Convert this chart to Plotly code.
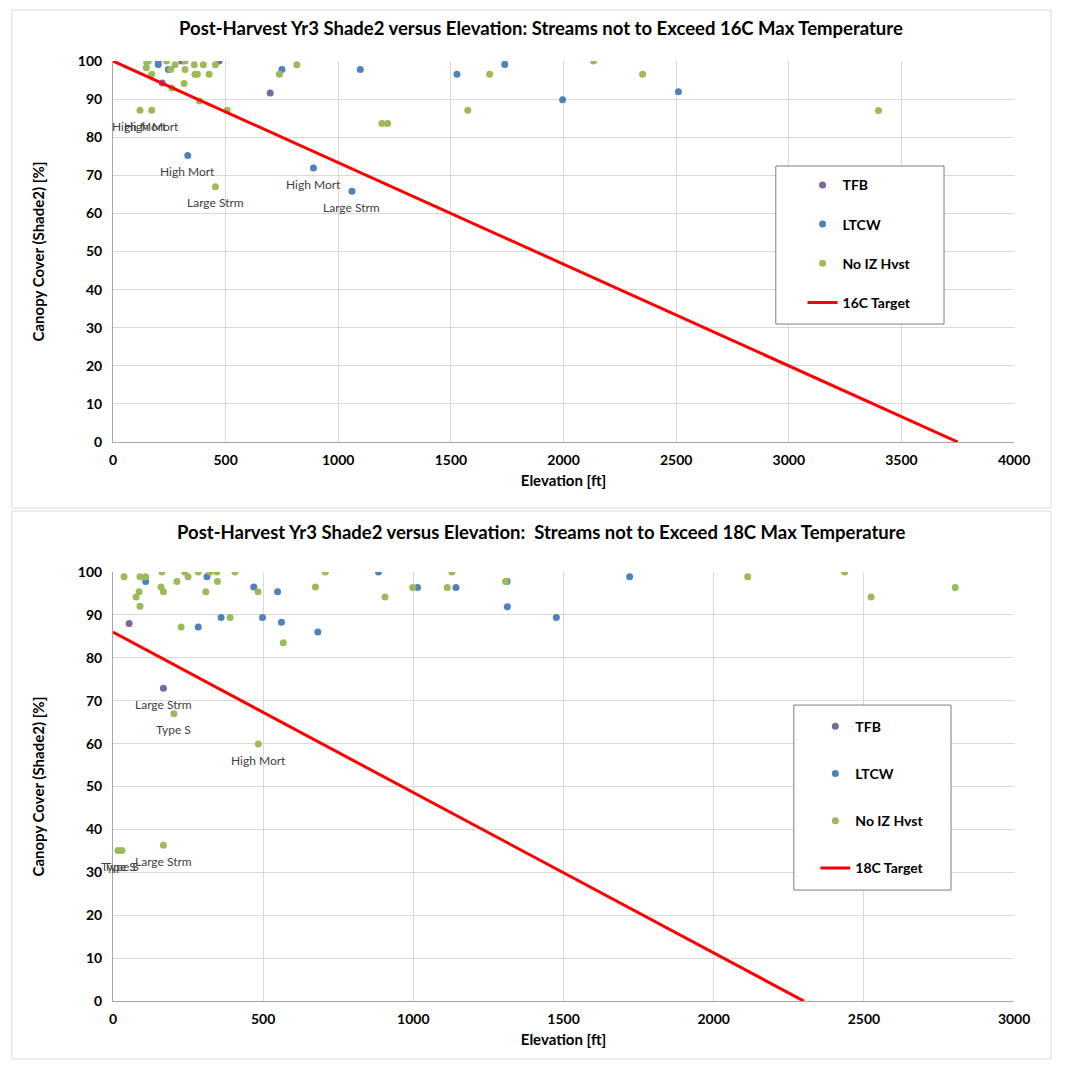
import plotly.graph_objects as go

# ---------------- data: 16C chart ----------------
tfb16_x = [219, 305, 471, 698]
tfb16_y = [94.2, 100, 100, 91.6]
ltcw16_x = [201, 201, 246, 332, 750, 890, 1061, 1098, 1527, 1739, 1996, 2510]
ltcw16_y = [100, 99.1, 97.8, 75.2, 97.8, 71.9, 65.8, 97.8, 96.5, 99.1, 89.8, 91.9]
noiz16_x = [120, 148, 150, 157, 172, 172, 238, 256, 261, 276, 316, 320, 320, 361, 364, 375,
            384, 401, 427, 455, 455, 507, 739, 816, 1194, 1219, 1575, 1672, 2133, 2351, 3398]
noiz16_y = [87.1, 98.2, 99.6, 100, 96.5, 87.1, 100, 97.8, 92.9, 99, 94.1, 100, 97.8, 99, 96.5, 96.5,
            89.5, 99, 96.5, 99, 67, 87.1, 96.5, 99, 83.6, 83.6, 87.1, 96.5, 100, 96.5, 87]
target16_x = [0, 3750]
target16_y = [100, 0]
labels16_text = ["High Mort", "High Mort", "High Mort", "High Mort", "Large Strm", "Large Strm"]
labels16_x = [120, 172, 332, 890, 455, 1061]
labels16_y = [87.1, 87.1, 75.2, 71.9, 67, 65.8]

# ---------------- data: 18C chart ----------------
tfb18_x = [54, 168]
tfb18_y = [88, 72.9]
ltcw18_x = [109, 284, 313, 360, 469, 498, 548, 561, 682, 884, 1014, 1142, 1312, 1313, 1476, 1720]
ltcw18_y = [97.8, 87.2, 98.9, 89.4, 96.5, 89.4, 95.4, 88.3, 86, 100, 96.4, 96.4, 97.8, 91.9, 89.4, 98.9]
noiz18_x = [17, 30, 37, 77, 87, 90, 90, 109, 160, 163, 168, 168, 203, 213, 227, 239, 250, 284, 309,
            323, 346, 348, 390, 406, 483, 484, 567, 674, 707, 906, 998, 1113, 1128, 1307, 2113, 2436,
            2524, 2804]
noiz18_y = [35.1, 35.1, 98.9, 94.2, 95.4, 98.9, 92, 98.9, 96.5, 100, 95.4, 36.3, 67, 97.8, 87.2, 100,
            98.9, 100, 95.4, 100, 100, 97.8, 89.4, 100, 95.4, 59.9, 83.5, 96.5, 100, 94.2, 96.4, 96.4,
            100, 97.8, 98.9, 100, 94.2, 96.4]
target18_x = [0, 2300]
target18_y = [86, 0]
labels18_text = ["Large Strm", "Type S", "High Mort", "Type S", "Type S", "Large Strm"]
labels18_x = [168, 203, 484, 17, 30, 168]
labels18_y = [72.9, 67, 59.9, 35.1, 35.1, 36.3]

titles = ["Post-Harvest Yr3 Shade2 versus Elevation: Streams not to Exceed 16C Max Temperature",
          "Post-Harvest Yr3 Shade2 versus Elevation:  Streams not to Exceed 18C Max Temperature"]

# ---------------- styling ----------------
W = H = 1068
# measured mapping from page pixels to the captured picture
SX, OX = 0.980, 4.2
SY, OY = 0.984, 8.0
C_TFB = "#8064A2"
C_LTCW = "#4F81BD"
C_NOIZ = "#9BBB59"
C_RED = "#FF0000"
FONT = "Lato"


def px(v):
    return ((v - OX) / SX) / W


def py(v):
    return 1 - ((v - OY) / SY) / H


fig = go.Figure()


def add_chart(xa, ya, legend, tx, ty, lx, ly, nx, ny, trx, tryy, tname):
    fig.add_trace(go.Scatter(x=tx, y=ty, mode="markers", name="TFB", xaxis=xa, yaxis=ya, legend=legend,
                             marker=dict(color=C_TFB, size=7), legendgroup=legend + "a"))
    fig.add_trace(go.Scatter(x=lx, y=ly, mode="markers", name="LTCW", xaxis=xa, yaxis=ya, legend=legend,
                             marker=dict(color=C_LTCW, size=7), legendgroup=legend + "b"))
    fig.add_trace(go.Scatter(x=nx, y=ny, mode="markers", name="No IZ Hvst", xaxis=xa, yaxis=ya, legend=legend,
                             marker=dict(color=C_NOIZ, size=7), legendgroup=legend + "c"))
    fig.add_trace(go.Scatter(x=trx, y=tryy, mode="lines", name=tname, xaxis=xa, yaxis=ya, legend=legend,
                             line=dict(color=C_RED, width=3), legendgroup=legend + "d"))


add_chart("x", "y", "legend", tfb16_x, tfb16_y, ltcw16_x, ltcw16_y, noiz16_x, noiz16_y,
          target16_x, target16_y, "16C Target")
add_chart("x2", "y2", "legend2", tfb18_x, tfb18_y, ltcw18_x, ltcw18_y, noiz18_x, noiz18_y,
          target18_x, target18_y, "18C Target")

annotations = []
for t, x, y in zip(labels16_text, labels16_x, labels16_y):
    annotations.append(dict(x=x, y=y, xref="x", yref="y", text=t, showarrow=False, yshift=-16,
                            font=dict(family=FONT, size=12, color="#404040")))
for t, x, y in zip(labels18_text, labels18_x, labels18_y):
    annotations.append(dict(x=x, y=y, xref="x2", yref="y2", text=t, showarrow=False, yshift=-16,
                            font=dict(family=FONT, size=12, color="#404040")))

annotations.append(dict(x=px(541), y=py(27), xref="paper", yref="paper", text="<b>" + titles[0] + "</b>",
                        showarrow=False, yanchor="middle", xanchor="center",
                        font=dict(family=FONT, size=18.5, color="#000000")))
annotations.append(dict(x=px(541), y=py(531), xref="paper", yref="paper", text="<b>" + titles[1] + "</b>",
                        showarrow=False, yanchor="middle", xanchor="center",
                        font=dict(family=FONT, size=18.5, color="#000000")))

shapes = [
    dict(type="rect", xref="paper", yref="paper", x0=px(12), x1=0.999, y0=py(507), y1=0.999,
         line=dict(color="#D9D9D9", width=1), layer="below"),
    dict(type="rect", xref="paper", yref="paper", x0=px(12), x1=0.999, y0=0.001, y1=py(510),
         line=dict(color="#D9D9D9", width=1), layer="below"),
    # legend frames
    dict(type="rect", xref="paper", yref="paper", x0=px(775), x1=px(943), y0=py(323), y1=py(165),
         line=dict(color="#7F7F7F", width=1), fillcolor="white", layer="above"),
    dict(type="rect", xref="paper", yref="paper", x0=px(793), x1=px(950), y0=py(889), y1=py(704),
         line=dict(color="#7F7F7F", width=1), fillcolor="white", layer="above"),
]

tickfont = dict(family=FONT, size=14, color="#000000", weight="bold")
titlefont = dict(family=FONT, size=15, color="#000000", weight="bold")
legfont = dict(family=FONT, size=14, color="#000000", weight="bold")
xdom = [px(113), px(1013)]

axis_common = dict(showgrid=True, gridcolor="#D9D9D9", gridwidth=1, zeroline=False,
                   showline=True, linecolor="#A6A6A6", linewidth=1, tickfont=tickfont,
                   ticks="", mirror=False)

fig.update_layout(
    width=W, height=H,
    margin=dict(l=0, r=0, t=0, b=0),
    paper_bgcolor="white", plot_bgcolor="white",
    xaxis=dict(domain=xdom, range=[0, 4000], dtick=500, anchor="y", ticklabelstandoff=5,
               title=dict(text="Elevation [ft]", font=titlefont, standoff=8), **axis_common),
    yaxis=dict(domain=[py(441), py(60)], range=[0, 100], dtick=10, anchor="x", ticklabelstandoff=7,
               title=dict(text="Canopy Cover (Shade2) [%]", font=titlefont, standoff=29), **axis_common),
    xaxis2=dict(domain=xdom, range=[0, 3000], dtick=500, anchor="y2", ticklabelstandoff=5,
                title=dict(text="Elevation [ft]", font=titlefont, standoff=8), **axis_common),
    yaxis2=dict(domain=[py(1000), py(571)], range=[0, 100], dtick=10, anchor="x2", ticklabelstandoff=7,
                title=dict(text="Canopy Cover (Shade2) [%]", font=titlefont, standoff=29), **axis_common),
    legend=dict(x=px(801.7), y=py(168.3), xanchor="left", yanchor="top", bgcolor="rgba(0,0,0,0)",
                borderwidth=0, tracegroupgap=18, font=legfont),
    legend2=dict(x=px(814.5), y=py(709.7), xanchor="left", yanchor="top", bgcolor="rgba(0,0,0,0)",
                 borderwidth=0, tracegroupgap=26, font=legfont),
    annotations=annotations,
    shapes=shapes,
    showlegend=True,
)

fig.write_html("out.html", config={"displayModeBar": False},
               post_script="document.body.style.margin='0';document.body.style.padding='0';"
                           "document.body.style.overflow='hidden';")
